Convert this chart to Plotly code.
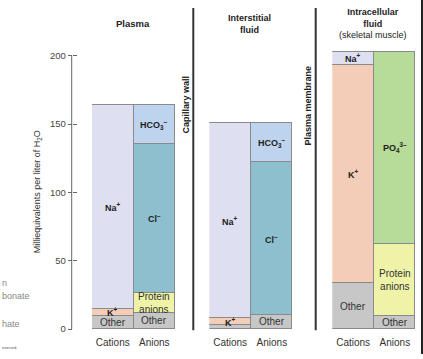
import plotly.graph_objects as go

W, H = 423, 359

# ---------------- data ----------------
compartments = ["Plasma", "Interstitial fluid", "Intracellular fluid"]
columns = ["Cations", "Anions"]

# stacked bottom -> top
plasma_cation_ions = ["Other", "K+", "Na+"]
plasma_cation_vals = [10, 5, 149]
plasma_anion_ions = ["Other", "Protein anions", "Cl-", "HCO3-"]
plasma_anion_vals = [12, 14.5, 109, 28.5]

inter_cation_ions = ["Other", "K+", "Na+"]
inter_cation_vals = [3, 5, 142.5]
inter_anion_ions = ["Other", "Cl-", "HCO3-"]
inter_anion_vals = [10.5, 111.5, 28.5]

intra_cation_ions = ["Other", "K+", "Na+"]
intra_cation_vals = [33.5, 160, 9.5]
intra_anion_ions = ["Other", "Protein anions", "PO43-"]
intra_anion_vals = [10, 52, 141]

y_ticks = [0, 50, 100, 150, 200]

# ---------------- styles ----------------
colors = {
    "Other": "#c7c7c7",
    "K+": "#f3cdb8",
    "Na+": "#dfdff2",
    "Protein anions": "#eff3a8",
    "Cl-": "#8ebfcf",
    "HCO3-": "#bed3ee",
    "PO43-": "#b7dc99",
}
labels = {
    "Other": "Other",
    "K+": "<b>K<sup>+</sup></b>",
    "Na+": "<b>Na<sup>+</sup></b>",
    "Protein anions": "Protein<br>anions",
    "Cl-": "<b>Cl<sup>–</sup></b>",
    "HCO3-": "<b>HCO<sub>3</sub><sup>–</sup></b>",
    "PO43-": "<b>PO<sub>4</sub><sup>3–</sup></b>",
}
FONT = "Liberation Sans, Arial, Helvetica, sans-serif"

fig = go.Figure()

panels = [
    ("x", [(plasma_cation_ions, plasma_cation_vals, True), (plasma_anion_ions, plasma_anion_vals, True)]),
    ("x2", [(inter_cation_ions, inter_cation_vals, False), (inter_anion_ions, inter_anion_vals, True)]),
    ("x3", [(intra_cation_ions, intra_cation_vals, True), (intra_anion_ions, intra_anion_vals, True)]),
]

annotations = []
for xa, cols in panels:
    for col_name, (ions, vals, label_other) in zip(columns, cols):
        base = 0
        for ion, v in zip(ions, vals):
            fig.add_trace(go.Bar(
                x=[col_name], y=[v], xaxis=xa, yaxis="y",
                marker=dict(color=colors[ion], line=dict(color="#8a8a8a", width=1)),
                showlegend=False, hoverinfo="skip", width=1,
            ))
            if ion != "Other" or label_other:
                bold = ion not in ("Other", "Protein anions")
                annotations.append(dict(
                    x=col_name, y=base + v / 2, xref=xa, yref="y",
                    text=labels[ion], showarrow=False,
                    font=dict(size=9 if bold else 10, color="#222" if bold else "#333", family=FONT),
                    xanchor="center", yanchor="middle",
                ))
            base += v

def px(xp):
    return xp / W

def py(yp):
    return 1 - yp / H

def note(x, y, text, size=9, color="#222", angle=0, xanchor="center"):
    return dict(x=px(x), y=py(y), xref="paper", yref="paper", text=text, textangle=angle,
                showarrow=False, xanchor=xanchor, yanchor="middle",
                font=dict(size=size, color=color, family=FONT))

annotations += [
    note(133, 24, "<b>Plasma</b>", 9.5),
    note(250, 24, "<b>Interstitial<br>fluid</b>", 9),
    note(373, 24, "<b>Intracellular<br>fluid</b><br>(skeletal muscle)", 9),
    note(186, 106, "<b>Capillary wall</b>", 9, angle=-90),
    note(308, 107, "<b>Plasma membrane</b>", 9, angle=-90),
    note(37, 195, "Milliequivalents per liter of H<sub>2</sub>O", 9, "#333", angle=-90),
    # cut-off legend fragments at the left edge
    note(0, 287, "n", 9, "#888", xanchor="left"),
    note(0, 300, "bonate", 9, "#888", xanchor="left"),
    note(0, 329, "hate", 9, "#888", xanchor="left"),
    note(0, 352, "eserved.", 4, "#555", xanchor="left"),
]

shapes = [
    dict(type="line", xref="paper", yref="paper", x0=px(193.3), x1=px(193.3), y0=py(8), y1=py(335),
         line=dict(color="#333", width=2)),
    dict(type="line", xref="paper", yref="paper", x0=px(315.7), x1=px(315.7), y0=py(8), y1=py(335),
         line=dict(color="#333", width=2)),
    dict(type="line", xref="paper", yref="paper", x0=px(422), x1=px(422), y0=0, y1=1,
         line=dict(color="#222", width=2)),
    dict(type="line", xref="paper", yref="y", x0=px(71.7), x1=px(71.7), y0=0, y1=max(y_ticks),
         line=dict(color="#666", width=1)),
]

y_dom = [py(333.7), py(333.7 - 205 * 1.386)]
xcommon = dict(type="category", categoryarray=columns, categoryorder="array", anchor="y",
               showline=False, ticks="", showgrid=False, zeroline=False, ticklabelstandoff=6,
               tickfont=dict(size=10, color="#333", family=FONT))

fig.update_layout(
    width=W, height=H, margin=dict(l=0, r=0, t=0, b=0),
    paper_bgcolor="white", plot_bgcolor="rgba(0,0,0,0)",
    barmode="stack", bargap=0,
    xaxis=dict(domain=[px(92), px(175)], **xcommon),
    xaxis2=dict(domain=[px(209.3), px(292.7)], **xcommon),
    xaxis3=dict(domain=[px(332.3), px(415.7)], **xcommon),
    yaxis=dict(domain=y_dom, range=[0, 205], anchor="free", position=px(71.7),
               tickvals=y_ticks, ticks="outside", ticklen=4, tickcolor="#666",
               showgrid=False, zeroline=False, showline=False,
               tickfont=dict(size=9.5, color="#444", family=FONT)),
    yaxis2=dict(domain=y_dom, range=[0, 205], anchor="free", position=px(71.7), overlaying="y",
                tickvals=y_ticks, ticks="inside", ticklen=4, tickcolor="#666",
                showticklabels=False, showgrid=False, zeroline=False, showline=False),
    annotations=annotations, shapes=shapes,
)
# dummy trace so the inner tick axis is drawn
fig.add_trace(go.Scatter(x=[None], y=[None], yaxis="y2", xaxis="x", showlegend=False, hoverinfo="skip"))

fig.write_html("out.html", config={"displayModeBar": False},
               post_script="document.body.style.margin='0px';")
